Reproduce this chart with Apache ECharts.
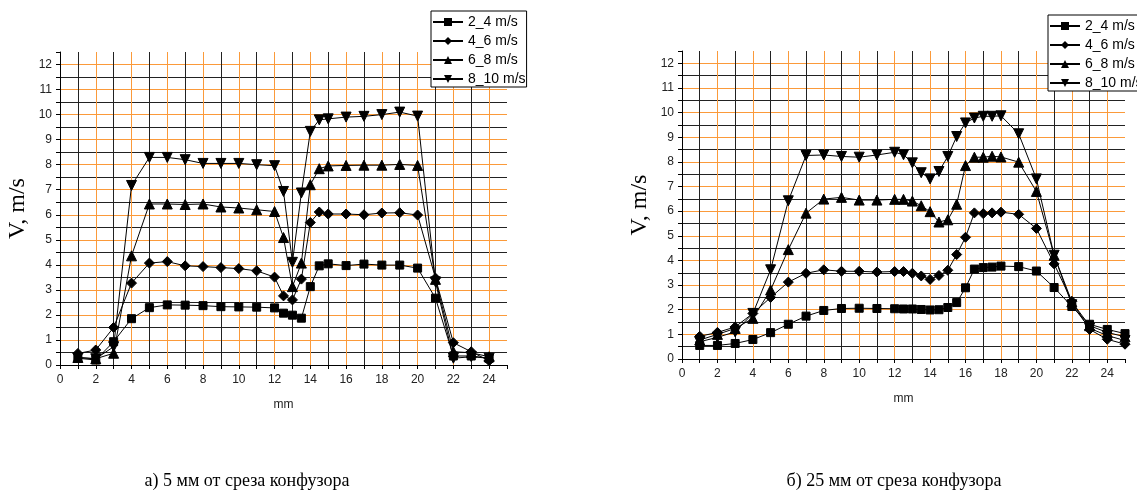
<!DOCTYPE html>
<html><head><meta charset="utf-8">
<script src="https://cdn.jsdelivr.net/npm/echarts@6/dist/echarts.min.js"></script>
<style>html,body{margin:0;padding:0;background:#fff}#c{width:1137px;height:493px}</style>
</head><body><div id="c"></div>
<script>
const seriesNames = ['2_4 m/s', '4_6 m/s', '6_8 m/s', '8_10 m/s'];
const captions = ['а) 5 мм от среза конфузора', 'б) 25 мм от среза конфузора'];
const yAxisName = 'V, m/s';
const xAxisName = 'mm';

// Chart a) 5 mm
const xA = [1,2,3,4,5,6,7,8,9,10,11,12,12.5,13,13.5,14,14.5,15,16,17,18,19,20,21,22,23,24];
const a_2_4  = [0.27,0.2,0.93,1.85,2.29,2.4,2.39,2.37,2.33,2.32,2.31,2.28,2.07,1.99,1.87,3.13,3.96,4.04,3.97,4.03,3.99,3.99,3.87,2.67,0.36,0.36,0.27];
const a_4_6  = [0.46,0.6,1.5,3.27,4.07,4.13,3.96,3.93,3.89,3.85,3.76,3.51,2.76,2.6,3.43,5.69,6.11,6.03,6.03,6.0,6.07,6.08,5.99,3.47,0.89,0.53,0.17];
const a_6_8  = [0.3,0.25,0.47,4.36,6.43,6.43,6.41,6.43,6.31,6.27,6.2,6.13,5.09,3.13,4.07,7.2,7.84,7.95,7.97,7.98,7.98,8.01,7.97,3.42,0.53,0.49,0.33];
const a_8_10 = [0.3,0.25,0.73,7.17,8.29,8.29,8.2,8.05,8.05,8.05,8.0,7.96,6.93,4.1,6.87,9.33,9.79,9.83,9.9,9.93,10.0,10.1,9.94,3.32,0.27,0.33,0.27];

// Chart b) 25 mm
const xB = [1,2,3,4,5,6,7,8,9,10,11,12,12.5,13,13.5,14,14.5,15,15.5,16,16.5,17,17.5,18,19,20,21,22,23,24,25];
const b_2_4  = [0.55,0.55,0.63,0.79,1.07,1.41,1.74,1.97,2.05,2.06,2.05,2.04,2.03,2.03,2.01,1.99,2.0,2.09,2.29,2.89,3.65,3.71,3.73,3.77,3.75,3.57,2.9,2.13,1.41,1.2,1.03];
const b_4_6  = [0.92,1.08,1.3,1.85,2.5,3.12,3.48,3.62,3.56,3.56,3.53,3.55,3.55,3.48,3.37,3.23,3.39,3.6,4.24,4.94,5.93,5.9,5.93,5.96,5.87,5.3,3.86,2.34,1.2,0.8,0.6];
const b_6_8  = [0.77,1.0,1.24,1.65,2.8,4.44,5.92,6.49,6.56,6.45,6.45,6.48,6.48,6.41,6.22,5.98,5.56,5.65,6.28,7.85,8.19,8.19,8.23,8.2,7.99,6.8,4.21,2.32,1.35,1.08,0.9];
const b_8_10 = [0.7,0.88,1.1,1.85,3.62,6.42,8.26,8.28,8.22,8.19,8.28,8.39,8.29,7.96,7.56,7.31,7.61,8.22,9.03,9.58,9.78,9.85,9.85,9.87,9.14,7.31,4.21,2.2,1.25,0.95,0.75];

const BLACK_GRID = '#222';
const ORANGE = '#fb9a3a';
const symbols = [
  {symbol: 'rect', size: 8, rotate: 0},
  {symbol: 'path://M0,-1L1,0L0,1L-1,0Z', size: 10, rotate: 0},
  {symbol: 'triangle', size: 10, rotate: 0},
  {symbol: 'triangle', size: 10, rotate: 180}
];

function xAxisCfg(gi) {
  return {
    gridIndex: gi, type: 'value', min: 0, max: 25, interval: 1,
    name: xAxisName, nameLocation: 'middle', nameGap: 34,
    nameTextStyle: {fontFamily: 'Liberation Sans', fontSize: 12, color: '#222'},
    axisLine: {show: true, onZero: false, lineStyle: {color: '#000', width: 1}},
    axisTick: {show: true, length: 4, inside: false, lineStyle: {color: '#000'}},
    axisLabel: {margin: 9, fontFamily: 'Liberation Sans', fontSize: 12, color: '#222',
      formatter: v => (v % 2 === 0 && v <= 24) ? String(v) : ''},
    splitLine: {show: true, showMinLine: false, showMaxLine: false,
      lineStyle: {color: [BLACK_GRID, ORANGE], width: 1}}
  };
}
function yAxisCfg(gi, gap) {
  return {
    gridIndex: gi, type: 'value', min: 0, max: 12.5, interval: 0.5,
    name: yAxisName, nameLocation: 'middle', nameGap: gap, nameRotate: 90,
    nameTextStyle: {fontFamily: 'Liberation Serif', fontSize: 24, color: '#000'},
    axisLine: {show: true, onZero: false, lineStyle: {color: '#000', width: 1}},
    axisTick: {show: true, length: 4, lineStyle: {color: '#000'}},
    axisLabel: {margin: 8, fontFamily: 'Liberation Sans', fontSize: 12, color: '#222',
      formatter: v => Number.isInteger(v) ? String(v) : ''},
    splitLine: {show: true, showMinLine: false, showMaxLine: false,
      lineStyle: {color: [BLACK_GRID, ORANGE], width: 1}}
  };
}

const dataSets = [
  {x: xA, ys: [a_2_4, a_4_6, a_6_8, a_8_10]},
  {x: xB, ys: [b_2_4, b_4_6, b_6_8, b_8_10]}
];
const series = [];
dataSets.forEach((ds, gi) => {
  ds.ys.forEach((ys, si) => {
    series.push({
      type: 'line', name: seriesNames[si], xAxisIndex: gi, yAxisIndex: gi,
      data: ds.x.map((v, k) => [v, ys[k]]),
      symbol: symbols[si].symbol, symbolSize: symbols[si].size, symbolRotate: symbols[si].rotate,
      showAllSymbol: true,
      lineStyle: {color: '#000', width: 1},
      itemStyle: {color: '#000', borderColor: '#000'},
      emphasis: {disabled: true},
      animation: false, z: 5
    });
  });
});

function legendCfg(left, top) {
  return {
    left: left, top: top, orient: 'vertical', selectedMode: false,
    itemWidth: 30, itemHeight: 10, itemGap: 5, itemTextGap: 3,
    padding: [4, 1, 1, 1],
    borderColor: '#000', borderWidth: 1, backgroundColor: '#fff',
    textStyle: {fontFamily: 'Liberation Sans', fontSize: 14, color: '#000'},
    data: seriesNames
  };
}

const chart = echarts.init(document.getElementById('c'), null, {renderer: 'canvas'});
chart.setOption({
  animation: false,
  backgroundColor: '#fff',
  grid: [
    {left: 60, top: 52, width: 447, height: 313, containLabel: false},
    {left: 682, top: 51, width: 443, height: 308, containLabel: false}
  ],
  xAxis: [xAxisCfg(0), xAxisCfg(1)],
  yAxis: [yAxisCfg(0, 30), yAxisCfg(1, 30)],
  legend: [legendCfg(431, 11), legendCfg(1048, 15)],
  series: series,
  graphic: [
    {type: 'text', x: 247, y: 481, style: {text: captions[0], align: 'center', verticalAlign: 'middle', textAlign: 'center', textVerticalAlign: 'middle', font: '18px "Liberation Serif"', fill: '#000'}},
    {type: 'text', x: 894, y: 481, style: {text: captions[1], align: 'center', verticalAlign: 'middle', textAlign: 'center', textVerticalAlign: 'middle', font: '18px "Liberation Serif"', fill: '#000'}}
  ]
});
</script>
</body></html>
